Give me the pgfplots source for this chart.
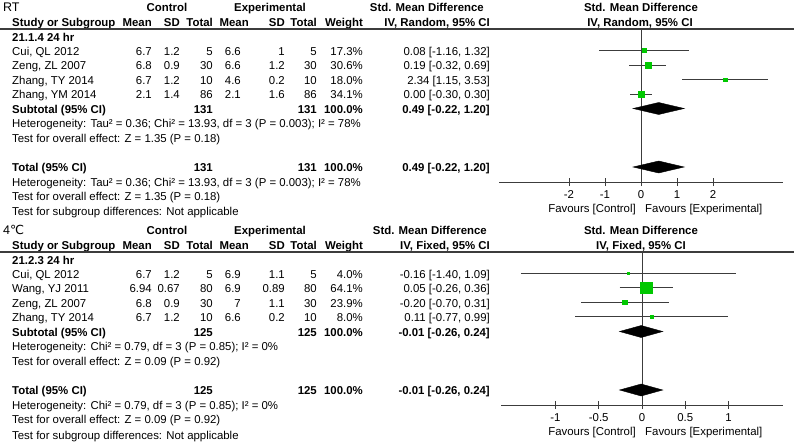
\documentclass[border=0pt]{standalone}
\usepackage{pgfplots}
\pgfplotsset{compat=1.18}
\usepackage{fontspec}
\setmainfont{Liberation Sans}
\newfontfamily\dejavu{DejaVu Sans}
\definecolor{sqgreen}{RGB}{0,200,0}
\definecolor{ln}{RGB}{60,60,60}
\newcommand\fs{\fontsize{11.4bp}{13bp}\selectfont}

\pgfplotsset{
  forest/.style={
    scale only axis, clip=false,
    axis x line*=bottom, axis y line=none,
    axis line style={ln, line width=1bp},
    tick align=center, major tick length=8bp,
    xtick style={ln, line width=0.9bp},
    xticklabel style={font=\fs, inner sep=0pt, yshift=-4.5bp},
  },
  ci/.style={ln, line width=0.9bp},
  sq/.style={only marks, mark=square*, mark options={fill=sqgreen, draw=sqgreen}},
  dia/.style={fill=black, draw=black},
}

\begin{document}
\fs
\begin{tikzpicture}
\useasboundingbox (0,0) rectangle (794bp,-447bp);

\begin{scope}[x=1bp, y=-1bp,
  every node/.style={inner sep=0pt, text height=8.1bp, text depth=0pt, font=\fs},
  b/.style={font=\fs\bfseries}]
% ---------- top panel (RT) ----------
\begin{scope}
\clip (0,0) rectangle (794,219);
\node[anchor=west, font=\fontsize{12.5bp}{14bp}\selectfont] at (3,7) {RT};
\node[b] at (167,7) {Control};
\node[b] at (270,7) {Experimental};
\node[b, anchor=east] at (484,7) {Std. Mean Difference};
\node[b] at (641,7) {Std. Mean Difference};
\node[b, anchor=west] at (12,22) {Study or Subgroup};
\node[b, anchor=east] at (152,22) {Mean};
\node[b, anchor=east] at (180,22) {SD};
\node[b, anchor=east] at (213,22) {Total};
\node[b, anchor=east] at (249,22) {Mean};
\node[b, anchor=east] at (285,22) {SD};
\node[b, anchor=east] at (317,22) {Total};
\node[b, anchor=east] at (363,22) {Weight};
\node[b, anchor=east] at (490,22) {IV, Random, 95\% CI};
\node[b] at (640,22) {IV, Random, 95\% CI};
\draw[ln, line width=1.2bp] (0,29) -- (794,29);
\node[b, anchor=west] at (12,37.5) {21.1.4 24 hr};
\foreach \y/\n/\ma/\sa/\na/\mb/\sb/\nb/\w/\ci in {
  51/{Cui, QL 2012}/6.7/1.2/5/6.6/1/5/17.3/{0.08 [-1.16, 1.32]},
  65.5/{Zeng, ZL 2007}/6.8/0.9/30/6.6/1.2/30/30.6/{0.19 [-0.32, 0.69]},
  80/{Zhang, TY 2014}/6.7/1.2/10/4.6/0.2/10/18.0/{2.34 [1.15, 3.53]},
  94.5/{Zhang, YM 2014}/2.1/1.4/86/2.1/1.6/86/34.1/{0.00 [-0.30, 0.30]}}{
  \node[anchor=west] at (12,\y) {\n};
  \node[anchor=east] at (152,\y) {\ma};
  \node[anchor=east] at (180,\y) {\sa};
  \node[anchor=east] at (213,\y) {\na};
  \node[anchor=east] at (241,\y) {\mb};
  \node[anchor=east] at (285,\y) {\sb};
  \node[anchor=east] at (317,\y) {\nb};
  \node[anchor=east] at (363,\y) {\w\%};
  \node[anchor=east] at (490,\y) {\ci};
}
\foreach \y/\lab in {109/Subtotal (95\% CI), 167.5/Total (95\% CI)}{
  \node[b, anchor=west] at (12,\y) {\lab};
  \node[b, anchor=east] at (213,\y) {131};
  \node[b, anchor=east] at (317,\y) {131};
  \node[b, anchor=east] at (363,\y) {100.0\%};
  \node[b, anchor=east] at (490,\y) {0.49 [-0.22, 1.20]};
}
\foreach \y in {123.5, 182}{
  \node[anchor=west] at (12,\y) {Heterogeneity: Tau² = 0.36; Chi² = 13.93, df = 3 (P = 0.003); I² = 78\%};
  \node[anchor=west] at (12,\y+14.5) {Test for overall effect: Z = 1.35 (P = 0.18)};
}
\node[anchor=west] at (12,211.5) {Test for subgroup differences: Not applicable};
\node[anchor=east] at (636,208) {Favours [Control]};
\node[anchor=west] at (645,208) {Favours [Experimental]};
\end{scope}

% ---------- bottom panel (4 C) ----------
\node[anchor=west, font=\fontsize{12.5bp}{14bp}\selectfont] at (3,230) {4{\dejavu ℃}};
\node[b] at (167,230) {Control};
\node[b] at (270,230) {Experimental};
\node[b, anchor=east] at (487,230) {Std. Mean Difference};
\node[b] at (641,230) {Std. Mean Difference};
\node[b, anchor=west] at (12,245) {Study or Subgroup};
\node[b, anchor=east] at (152,245) {Mean};
\node[b, anchor=east] at (180,245) {SD};
\node[b, anchor=east] at (213,245) {Total};
\node[b, anchor=east] at (249,245) {Mean};
\node[b, anchor=east] at (285,245) {SD};
\node[b, anchor=east] at (317,245) {Total};
\node[b, anchor=east] at (363,245) {Weight};
\node[b, anchor=east] at (490,245) {IV, Fixed, 95\% CI};
\node[b] at (641,245) {IV, Fixed, 95\% CI};
\draw[ln, line width=1.2bp] (0,252) -- (794,252);
\node[b, anchor=west] at (12,260.5) {21.2.3 24 hr};
\foreach \y/\n/\ma/\sa/\na/\mb/\sb/\nb/\w/\ci in {
  274/{Cui, QL 2012}/6.7/1.2/5/6.9/1.1/5/4.0/{-0.16 [-1.40, 1.09]},
  288.5/{Wang, YJ 2011}/6.94/0.67/80/6.9/0.89/80/64.1/{0.05 [-0.26, 0.36]},
  303/{Zeng, ZL 2007}/6.8/0.9/30/7/1.1/30/23.9/{-0.20 [-0.70, 0.31]},
  317.5/{Zhang, TY 2014}/6.7/1.2/10/6.6/0.2/10/8.0/{0.11 [-0.77, 0.99]}}{
  \node[anchor=west] at (12,\y) {\n};
  \node[anchor=east] at (152,\y) {\ma};
  \node[anchor=east] at (180,\y) {\sa};
  \node[anchor=east] at (213,\y) {\na};
  \node[anchor=east] at (241,\y) {\mb};
  \node[anchor=east] at (285,\y) {\sb};
  \node[anchor=east] at (317,\y) {\nb};
  \node[anchor=east] at (363,\y) {\w\%};
  \node[anchor=east] at (490,\y) {\ci};
}
\foreach \y/\lab in {332/Subtotal (95\% CI), 390.5/Total (95\% CI)}{
  \node[b, anchor=west] at (12,\y) {\lab};
  \node[b, anchor=east] at (213,\y) {125};
  \node[b, anchor=east] at (317,\y) {125};
  \node[b, anchor=east] at (363,\y) {100.0\%};
  \node[b, anchor=east] at (490,\y) {-0.01 [-0.26, 0.24]};
}
\foreach \y in {346.5, 405}{
  \node[anchor=west] at (12,\y) {Heterogeneity: Chi² = 0.79, df = 3 (P = 0.85); I² = 0\%};
  \node[anchor=west] at (12,\y+14.5) {Test for overall effect: Z = 0.09 (P = 0.92)};
}
\node[anchor=west] at (12,435) {Test for subgroup differences: Not applicable};
\node[anchor=east] at (636,431) {Favours [Control]};
\node[anchor=west] at (645,431) {Favours [Experimental]};
\end{scope}

% ---------- top forest plot ----------
\begin{axis}[forest, at={(499bp,-182bp)}, anchor=south west,
  width=284bp, height=153bp,
  xmin=-3.944, xmax=3.944, ymin=-182, ymax=-29,
  xtick={-2,-1,0,1,2}, xticklabels={-2,-1,0,1,2}]
\addplot[ln, line width=0.9bp] coordinates {(0,-29) (0,-182)};
\addplot[ci] coordinates {(-1.16,-50) (1.32,-50)};
\addplot[ci] coordinates {(-0.32,-65) (0.69,-65)};
\addplot[ci] coordinates {(1.15,-79.7) (3.53,-79.7)};
\addplot[ci] coordinates {(-0.30,-94.3) (0.30,-94.3)};
\addplot[sq, mark size=1.9bp] coordinates {(0.08,-50)};
\addplot[sq, mark size=3bp] coordinates {(0.19,-65)};
\addplot[sq, mark size=1.7bp] coordinates {(2.34,-79.7)};
\addplot[sq, mark size=3bp] coordinates {(0.00,-94.3)};
\addplot[dia] coordinates {(-0.22,-108.5) (0.49,-102.5) (1.20,-108.5) (0.49,-114.5)} -- cycle;
\addplot[dia] coordinates {(-0.22,-167) (0.49,-161) (1.20,-167) (0.49,-173)} -- cycle;
\end{axis}

% ---------- bottom forest plot ----------
\begin{axis}[forest, at={(501bp,-405bp)}, anchor=south west,
  width=282bp, height=153bp,
  xmin=-1.63, xmax=1.63, ymin=-405, ymax=-252,
  xtick={-1,-0.5,0,0.5,1}, xticklabels={-1,-0.5,0,0.5,1}]
\addplot[ln, line width=0.9bp] coordinates {(0,-252) (0,-405)};
\addplot[ci] coordinates {(-1.40,-273) (1.09,-273)};
\addplot[ci] coordinates {(-0.26,-287.5) (0.36,-287.5)};
\addplot[ci] coordinates {(-0.70,-302) (0.31,-302)};
\addplot[ci] coordinates {(-0.77,-316.5) (0.99,-316.5)};
\addplot[sq, mark size=1bp] coordinates {(-0.16,-273)};
\addplot[sq, mark size=5.8bp] coordinates {(0.05,-287.5)};
\addplot[sq, mark size=2.2bp] coordinates {(-0.20,-302)};
\addplot[sq, mark size=1.3bp] coordinates {(0.11,-316.5)};
\addplot[dia] coordinates {(-0.26,-331.5) (-0.01,-325.5) (0.24,-331.5) (-0.01,-337.5)} -- cycle;
\addplot[dia] coordinates {(-0.26,-390) (-0.01,-384) (0.24,-390) (-0.01,-396)} -- cycle;
\end{axis}
\end{tikzpicture}
\end{document}
